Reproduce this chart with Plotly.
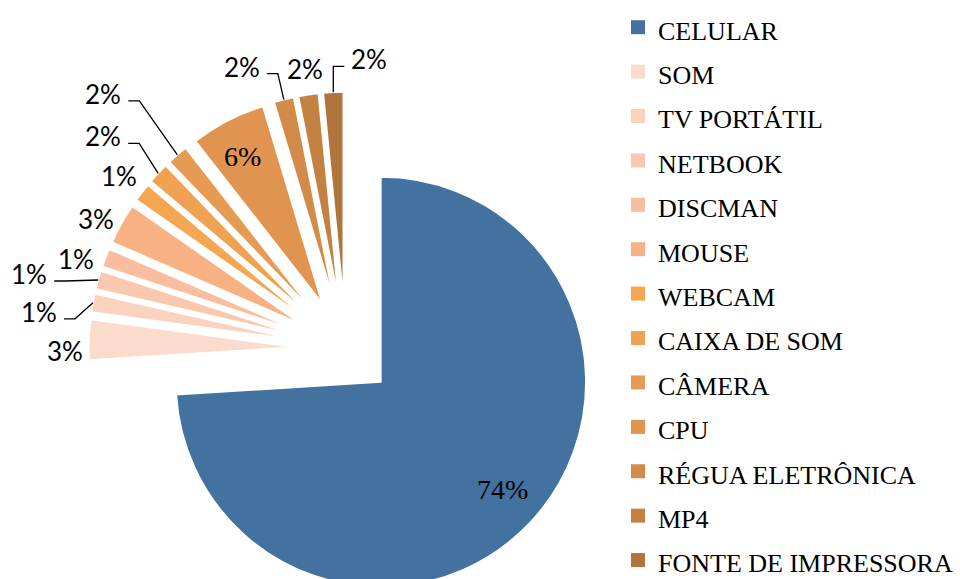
import math
import plotly.graph_objects as go

# ---- data ----
categories = ["CELULAR", "SOM", "TV PORTÁTIL", "NETBOOK", "DISCMAN", "MOUSE",
              "WEBCAM", "CAIXA DE SOM", "CÂMERA", "CPU", "RÉGUA ELETRÔNICA",
              "MP4", "FONTE DE IMPRESSORA"]
values = [74.0, 3.15, 1.45, 1.45, 1.45, 3.2, 1.45, 1.65, 1.65, 5.9, 1.55, 1.55, 1.55]

# ---- styles ----
colors = ["#4472A0", "#FBDCCC", "#FBD2BE", "#F9C8AF", "#F8BE9F", "#F7B183",
          "#F5A653", "#F0A151", "#E79B52", "#E0944F", "#D38B49", "#C48142",
          "#B1743B"]
pulls = [0.235] + [0.254] * 12
# label placement: pixel offsets from the outer mid-point of each slice
label_dx = [-28, -24, -54, -69, -30, -25, -23, -55, -74, 15, -42, -3, 36]
label_dy = [-33, 11, 9, -6, 1, -5, -16, -37, -61, 36, -33, -26, -33]
leader_side = [0, 0, 1, 1, 0, 0, 0, 1, 1, 0, 1, 0, -1]
inside_label = [True, False, False, False, False, False, False, False, False,
                True, False, False, False]

W, H = 960, 606
T = 92
PH = H - T
DOM_X = (0.0, 0.7204)

max_pull = max(pulls)
r = min(W * (DOM_X[1] - DOM_X[0]), PH) / (2 * (1 + max_pull))
cx = W * (DOM_X[0] + DOM_X[1]) / 2
cy = T + PH / 2


def to_paper(px, py):
    return px / W, 1 - (py - T) / PH


fig = go.Figure()
fig.add_trace(go.Pie(
    labels=categories,
    values=values,
    sort=False,
    direction="clockwise",
    rotation=0,
    pull=pulls,
    marker=dict(colors=colors, line=dict(color="white", width=1.5)),
    textinfo="none",
    domain=dict(x=list(DOM_X), y=[0, 1]),
    showlegend=False,
    hoverinfo="label+percent",
))

# legend entries (square swatches)
for c, col in zip(categories, colors):
    fig.add_trace(go.Scatter(
        x=[None], y=[None], mode="markers",
        marker=dict(symbol="square", size=14, color=col),
        name='<span style="font-size:26px">%s</span>' % c,
        hoverinfo="skip",
    ))

annotations = []
shapes = []
total = sum(values)
cum = 0.0
for i, v in enumerate(values):
    mid = (cum + v / 2) / total * 2 * math.pi
    cum += v
    R = r * (1 + pulls[i])
    ax_ = cx + R * math.sin(mid)
    ay_ = cy - R * math.cos(mid)
    lx = ax_ + label_dx[i]
    ly = ay_ + label_dy[i]
    txt = "%d%%" % round(v / total * 100)
    if inside_label[i]:
        font = dict(family="Liberation Serif", size=28, color="black")
    else:
        font = dict(family="Lato", size=26, color="black")
    px_, py_ = to_paper(lx, ly)
    annotations.append(dict(
        x=px_, y=py_, xref="paper", yref="paper", text=txt, showarrow=False,
        xanchor="center", yanchor="middle", font=font,
    ))
    s = leader_side[i]
    if s:
        sx, sy = lx + 25 * s, ly + 7
        ex, ey = sx + 11 * s, sy
        p0 = to_paper(ax_, ay_)
        p1 = to_paper(ex, ey)
        p2 = to_paper(sx, sy)
        shapes.append(dict(
            type="path", xref="paper", yref="paper",
            path="M %f,%f L %f,%f L %f,%f" % (p0[0], p0[1], p1[0], p1[1], p2[0], p2[1]),
            line=dict(color="black", width=1.3),
        ))

fig.update_layout(
    width=W, height=H,
    margin=dict(l=0, r=0, t=T, b=0, autoexpand=False),
    paper_bgcolor="white",
    plot_bgcolor="white",
    xaxis=dict(visible=False),
    yaxis=dict(visible=False),
    annotations=annotations,
    shapes=shapes,
    showlegend=True,
    legend=dict(
        font=dict(family="Liberation Serif", size=31.85, color="black"),
        xref="container", yref="container",
        x=(658 - 40) / W, xanchor="left",
        y=1.001, yanchor="top",
        bgcolor="rgba(0,0,0,0)",
        borderwidth=0,
        maxheight=700,
    ),
)

fig.write_html(
    "out.html",
    post_script=("document.documentElement.style.overflow='hidden';"
                 "document.body.style.overflow='hidden';"
                 "document.body.style.margin='0';"),
)
